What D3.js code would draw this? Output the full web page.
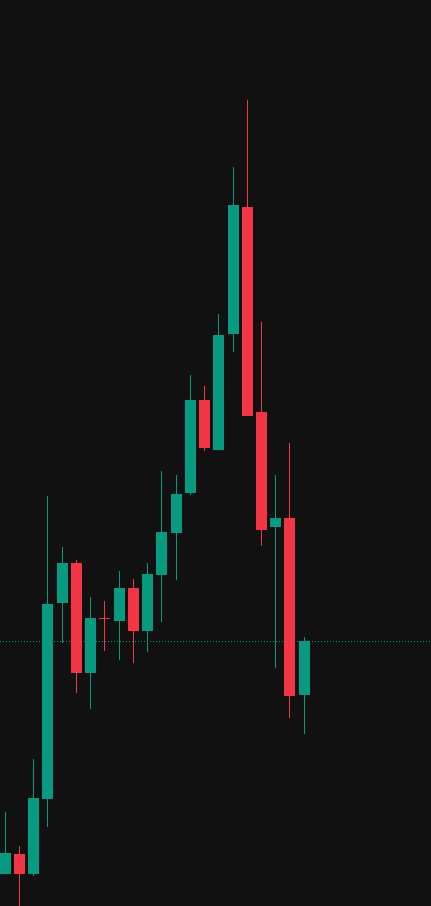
<!DOCTYPE html>
<html>
<head>
<meta charset="utf-8">
<script src="https://cdn.jsdelivr.net/npm/d3@7"></script>
<style>
html,body{margin:0;padding:0;background:#111111;overflow:hidden;}
svg{display:block;}
</style>
</head>
<body>
<svg id="chart" width="431" height="906"></svg>
<script>
const opens  = [125.2,129.2,125.2,140.2,179.4,187.4,165.4,176.4,175.8,182.4,173.8,185.0,193.4,201.4,220.0,210.0,233.2,258.6,217.6,194.6,196.4,161.0];
const highs  = [137.6,130.8,148.2,200.8,190.6,188.0,180.6,179.8,185.8,184.2,187.4,205.8,205.0,225.0,222.8,237.2,266.6,280.0,235.6,205.0,211.4,172.6];
const lows   = [125.2,118.0,124.8,134.6,171.4,161.4,158.2,169.8,168.0,167.4,169.6,175.6,184.0,201.0,209.8,210.0,229.6,216.8,190.8,166.4,156.4,153.2];
const closes = [129.4,125.2,140.4,179.2,187.4,165.4,176.4,176.3,182.4,173.8,185.2,193.6,201.2,220.0,210.4,233.0,259.0,216.8,194.0,196.4,160.8,171.8];

const W = 431, H = 906;
const up = "#089981", down = "#F23645";
const svg = d3.select("#chart");
svg.append("rect").attr("width", W).attr("height", H).attr("fill", "#111111");

const idx = d3.range(opens.length);
const x = d3.scaleLinear().domain([0, opens.length - 1]).range([5.27, 304.205]);
const y = d3.scaleLinear().domain([118.8, 300]).range([H, 0]);
const cx = i => Math.floor(x(i));

// last price dotted line
const lastY = Math.round(y(closes[closes.length - 1])) + 0.5;
svg.append("line")
  .attr("x1", 0).attr("x2", W).attr("y1", lastY).attr("y2", lastY)
  .attr("stroke", up).attr("stroke-width", 1).attr("stroke-dasharray", "1 2");

const g = svg.append("g").attr("shape-rendering", "crispEdges");
const color = i => closes[i] >= opens[i] ? up : down;

g.selectAll("line.wick").data(idx).join("line")
  .attr("class", "wick")
  .attr("x1", i => cx(i) + 0.5)
  .attr("x2", i => cx(i) + 0.5)
  .attr("y1", i => Math.round(y(highs[i])))
  .attr("y2", i => Math.round(y(lows[i])))
  .attr("stroke", color).attr("stroke-width", 1);

g.selectAll("rect.body").data(idx).join("rect")
  .attr("class", "body")
  .attr("x", i => cx(i) - 5)
  .attr("width", 11)
  .attr("y", i => Math.round(y(Math.max(opens[i], closes[i]))))
  .attr("height", i => Math.max(1, Math.round(y(Math.min(opens[i], closes[i]))) - Math.round(y(Math.max(opens[i], closes[i])))))
  .attr("fill", color);
</script>
</body>
</html>
